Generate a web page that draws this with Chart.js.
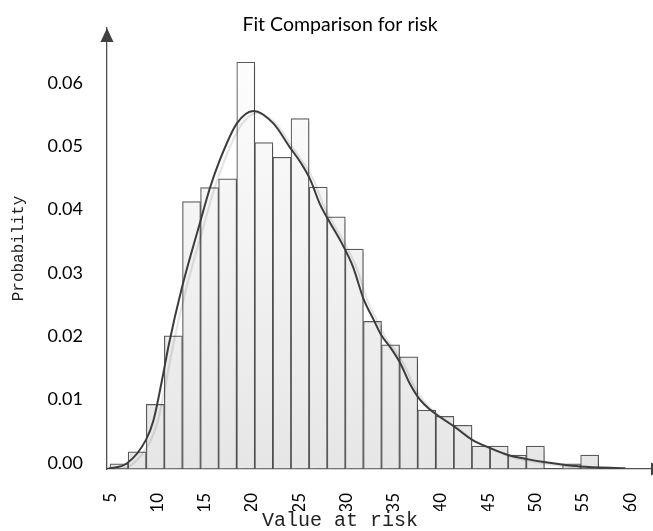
<!DOCTYPE html>
<html>
<head>
<meta charset="utf-8">
<script src="https://cdn.jsdelivr.net/npm/chart.js@4.4.1/dist/chart.umd.min.js"></script>
<style>
  html, body { margin: 0; padding: 0; background: #ffffff; }
  #wrap { position: relative; width: 653px; height: 531px; }
</style>
</head>
<body>
<div id="wrap"><canvas id="c"></canvas></div>
<script>
// ---- data ----
const binCenters = [5.96, 7.87, 9.79, 11.70, 13.62, 15.53, 17.44, 19.36, 21.27, 23.19,
                    25.10, 27.02, 28.93, 30.84, 32.76, 34.67, 36.59, 38.50, 40.42, 42.33,
                    44.24, 46.16, 48.07, 49.99, 51.90, 53.82, 55.73];
const binProb = [0.0008, 0.0027, 0.0102, 0.0210, 0.0422, 0.0444, 0.0458, 0.0642, 0.0515, 0.0492,
                 0.0553, 0.0445, 0.0398, 0.0347, 0.0233, 0.0196, 0.0177, 0.0093, 0.0083, 0.0069,
                 0.0036, 0.0036, 0.0022, 0.0036, 0.0000, 0.0008, 0.0022];
const fitX = [4.7, 6.8, 8.8, 9.6, 10.6, 11.2, 12.6, 14.5, 15.6, 16.6,
              18.4, 20.2, 22.3, 24.0, 25.1, 26.2, 27.2, 28.3, 29.7, 30.7,
              31.8, 32.9, 33.7, 34.6, 35.7, 36.7, 37.8, 38.9, 39.9, 41.4,
              43.3, 45.2, 47.1, 49.0, 50.9, 52.8, 54.7, 59.5];
const fitY = [0.0000, 0.0009, 0.0046, 0.0077, 0.0148, 0.0195, 0.0286, 0.0388, 0.0445, 0.0487,
              0.0545, 0.0565, 0.0545, 0.0508, 0.0485, 0.0456, 0.0418, 0.0388, 0.0351, 0.0319,
              0.0269, 0.0235, 0.0211, 0.0193, 0.0167, 0.0135, 0.0109, 0.0093, 0.0082, 0.0067,
              0.0046, 0.0033, 0.0022, 0.0016, 0.0011, 0.0007, 0.0004, 0.0001];
const xTicks = [5, 10, 15, 20, 25, 30, 35, 40, 45, 50, 55, 60];
const yTicks = [0.00, 0.01, 0.02, 0.03, 0.04, 0.05, 0.06];
const titleText = 'Fit Comparison for risk';
const xTitle = 'Value at risk';
const yTitle = 'Probability';

const AXIS = '#505050';

const shadowPlugin = {
  id: 'shadow',
  beforeDatasetDraw(chart, args) {
    const ctx = chart.ctx;
    ctx.save();
    if (args.meta.type === 'bar') {
      ctx.shadowColor = 'rgba(0,0,0,0.16)';
      ctx.shadowOffsetX = 4;
      ctx.shadowOffsetY = 3;
      ctx.shadowBlur = 2;
    } else {
      ctx.shadowColor = 'rgba(0,0,0,0.12)';
      ctx.shadowOffsetX = 4;
      ctx.shadowOffsetY = 2;
      ctx.shadowBlur = 1;
    }
  },
  afterDatasetDraw(chart) { chart.ctx.restore(); }
};

const arrowPlugin = {
  id: 'arrows',
  afterDraw(chart) {
    const ctx = chart.ctx;
    const a = chart.chartArea;
    ctx.save();
    ctx.fillStyle = '#404040';
    // y axis arrow head
    ctx.beginPath();
    ctx.moveTo(a.left, a.top);
    ctx.lineTo(a.left - 6.5, a.top + 14);
    ctx.lineTo(a.left + 6.5, a.top + 14);
    ctx.closePath();
    ctx.fill();
    // x axis arrow head (cut by the canvas edge)
    const bx = chart.width - 2;
    ctx.beginPath();
    ctx.moveTo(bx + 14, a.bottom);
    ctx.lineTo(bx, a.bottom - 6.5);
    ctx.lineTo(bx, a.bottom + 6.5);
    ctx.closePath();
    ctx.fill();
    ctx.restore();
  }
};

const barFill = (c) => {
  const chart = c.chart;
  const a = chart.chartArea;
  if (!a) return '#f4f4f4';
  const g = chart.ctx.createLinearGradient(0, a.top, 0, a.bottom);
  g.addColorStop(0, '#ffffff');
  g.addColorStop(1, '#e6e6e6');
  return g;
};

new Chart(document.getElementById('c'), {
  data: {
    datasets: [
      {
        type: 'line',
        order: 0,
        data: fitX.map((x, i) => ({ x: x, y: fitY[i] })),
        borderColor: '#3c3c3c',
        borderWidth: 2,
        pointRadius: 0,
        fill: false,
        tension: 0.4,
        cubicInterpolationMode: 'monotone'
      },
      {
        type: 'bar',
        order: 1,
        data: binCenters.map((x, i) => ({ x: x, y: binProb[i] })),
        backgroundColor: barFill,
        borderColor: '#5a5a5a',
        borderWidth: 1.2,
        borderSkipped: false,
        barPercentage: 1,
        categoryPercentage: 1
      }
    ]
  },
  options: {
    responsive: true,
    maintainAspectRatio: false,
    animation: false,
    layout: { padding: { left: 0, right: -27, top: 0, bottom: 0 } },
    plugins: {
      legend: { display: false },
      tooltip: { enabled: false },
      title: {
        display: true,
        text: titleText,
        color: '#000000',
        font: { family: 'Lato', size: 19.5, weight: 'normal', lineHeight: 1.2 },
        padding: { top: 13.3, bottom: -8.7 }
      },
      subtitle: {
        display: true,
        position: 'bottom',
        text: xTitle,
        color: '#222222',
        font: { family: 'Liberation Mono', size: 20, weight: 'normal', lineHeight: 1 },
        padding: { top: 0, bottom: 0 }
      }
    },
    scales: {
      x: {
        type: 'linear',
        offset: false,
        min: 4.68,
        max: 62.43,
        afterFit(s) { s.height = 42; },
        afterBuildTicks(s) { s.ticks = xTicks.map(v => ({ value: v })); },
        grid: { display: false, drawTicks: true, tickLength: 24, offset: false },
        border: { display: true, color: AXIS, width: 1.3 },
        ticks: {
          autoSkip: false,
          minRotation: 90,
          maxRotation: 90,
          padding: 0,
          color: '#000000',
          font: { family: 'Lato', size: 17 },
          callback: (v) => String(v)
        }
      },
      y: {
        type: 'linear',
        min: 0,
        max: 0.0696,
        afterFit(s) { s.width = 107; },
        afterBuildTicks(s) { s.ticks = yTicks.map(v => ({ value: v })); },
        grid: { display: false, drawTicks: true, tickLength: 24 },
        border: { display: true, color: AXIS, width: 1.3 },
        title: {
          display: true,
          text: yTitle,
          color: '#222222',
          font: { family: 'Liberation Mono', size: 16, weight: 'normal', lineHeight: 1.2 },
          padding: { top: 9, bottom: 0 }
        },
        ticks: {
          autoSkip: false,
          padding: 0,
          labelOffset: -6,
          color: '#000000',
          font: { family: 'Lato', size: 18 },
          callback: (v) => Number(v).toFixed(2)
        }
      }
    }
  },
  plugins: [shadowPlugin, arrowPlugin]
});
</script>
</body>
</html>
